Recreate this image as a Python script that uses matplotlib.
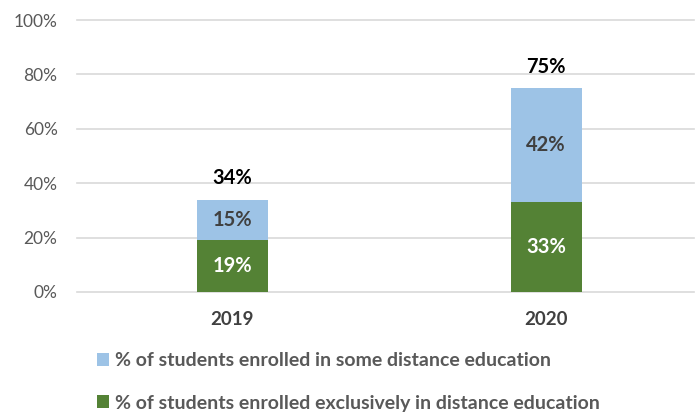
#!/usr/bin/env python3
"""Stacked bar chart of distance education enrollment, 2019 vs 2020."""

import matplotlib
matplotlib.use("Agg")
import matplotlib.pyplot as plt
from matplotlib.patches import Patch

years = ["2019", "2020"]
exclusive = [19, 33]   # % exclusively in distance education
some = [15, 42]        # % in some distance education
yTicks = [0, 20, 40, 60, 80, 100]

labelSome = "% of students enrolled in some distance education"
labelExclusive = "% of students enrolled exclusively in distance education"

green = "#548235"
blue = "#9DC3E6"


def main():
    plt.rcParams['font.family'] = ['Lato', 'DejaVu Sans']

    fig = plt.figure(figsize=(6.96, 4.15), dpi=100)
    ax = fig.add_axes([0.1106, 0.2964, 0.8865, 0.6554])

    x = list(range(len(years)))
    width = 0.226
    totals = [a + b for a, b in zip(exclusive, some)]

    barsEx = ax.bar(x, exclusive, width, color=green, zorder=3)
    barsSome = ax.bar(x, some, width, bottom=exclusive, color=blue, zorder=3)

    # segment labels
    for bar, val in zip(barsEx, exclusive):
        ax.text(bar.get_x() + bar.get_width() / 2, bar.get_y() + bar.get_height() / 2,
                f"{val}%", ha='center', va='center', color='white',
                fontsize=14.5, fontweight='bold', zorder=4)
    for bar, val in zip(barsSome, some):
        ax.text(bar.get_x() + bar.get_width() / 2, bar.get_y() + bar.get_height() / 2,
                f"{val}%", ha='center', va='center', color='#404040',
                fontsize=14.5, fontweight='bold', zorder=4)

    # totals above bars
    for xi, tot in zip(x, totals):
        ax.annotate(f"{tot}%", (xi, tot), xytext=(0, 8), textcoords='offset points',
                    ha='center', va='bottom', color='black',
                    fontsize=14.5, fontweight='bold')

    ax.set_xlim(-0.494, 1.471)
    ax.set_ylim(0, 100)
    ax.set_yticks(yTicks)
    ax.set_yticklabels([f"{t}%" for t in yTicks])
    ax.set_xticks(x)
    ax.set_xticklabels(years, fontweight='bold')

    ax.tick_params(axis='y', length=0, pad=14, labelsize=12.5, labelcolor='#595959')
    ax.tick_params(axis='x', length=0, pad=14, labelsize=13.5, labelcolor='#404040')

    for spine in ax.spines.values():
        spine.set_visible(False)
    ax.grid(axis='y', color='#D9D9D9', linewidth=1.2, zorder=0)
    for line in ax.get_ygridlines():
        line.set_clip_on(False)

    handles = [Patch(facecolor=blue, label=labelSome),
               Patch(facecolor=green, label=labelExclusive)]
    fig.legend(handles=handles, loc='upper left', bbox_to_anchor=(0.139, 0.152),
               frameon=False, handlelength=0.65, handleheight=0.65, handletextpad=0.3,
               labelspacing=1.32, borderaxespad=0, borderpad=0,
               prop={'weight': 'bold', 'size': 14}, labelcolor='#595959')

    fig.savefig("out.png", dpi=100)


if __name__ == "__main__":
    main()
